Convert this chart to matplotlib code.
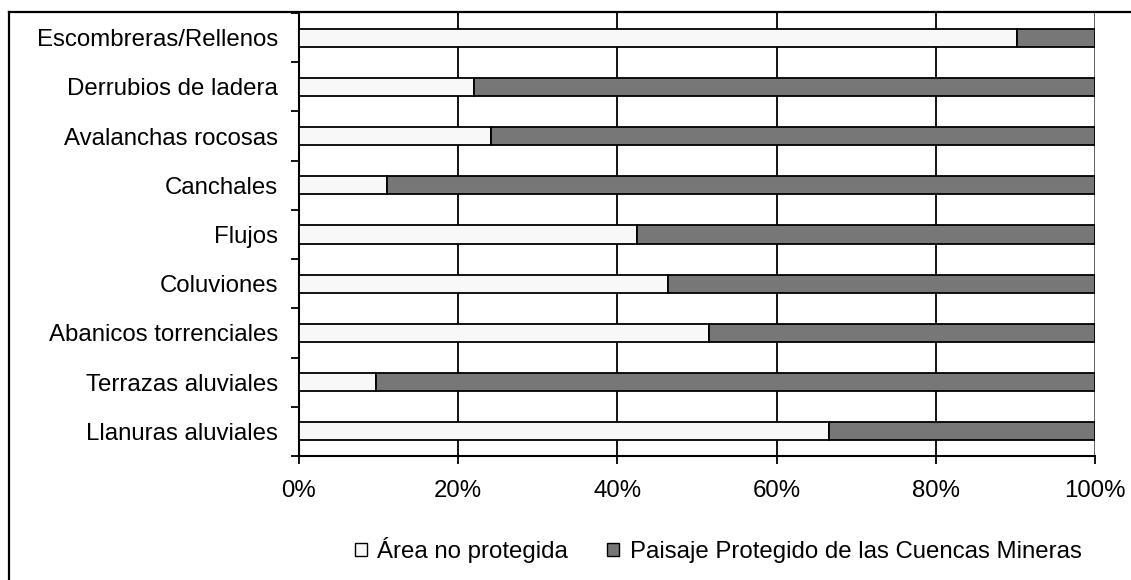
import matplotlib
matplotlib.use("Agg")
import matplotlib.pyplot as plt
from matplotlib.patches import Patch
from matplotlib.lines import Line2D
import numpy as np

categories = ["Escombreras/Rellenos", "Derrubios de ladera", "Avalanchas rocosas",
              "Canchales", "Flujos", "Coluviones", "Abanicos torrenciales",
              "Terrazas aluviales", "Llanuras aluviales"]
no_protegida = [90.2, 22.0, 24.1, 11.0, 42.5, 46.4, 51.5, 9.7, 66.6]
protegida = [100 - v for v in no_protegida]
series_labels = ["Área no protegida", "Paisaje Protegido de las Cuencas Mineras"]
xticks = [0, 20, 40, 60, 80, 100]
xtick_labels = ["0%", "20%", "40%", "60%", "80%", "100%"]

plt.rcParams['font.family'] = ['Liberation Sans', 'DejaVu Sans']
FS = 17.3

W, H = 1131, 580
fig = plt.figure(figsize=(W / 100, H / 100), dpi=100)
ax = fig.add_axes([299 / W, 1 - 456 / H, (1095 - 299) / W, (456 - 13) / H])

y = np.arange(len(categories))
light = "#f8f8f8"
dark = "#777777"
ax.barh(y, no_protegida, height=0.37, color=light, edgecolor="black", linewidth=1.3, zorder=3)
ax.barh(y, protegida, left=no_protegida, height=0.37, color=dark, edgecolor="black", linewidth=1.3, zorder=3)

ax.set_xlim(0, 100)
ax.set_ylim(len(categories) - 0.5, -0.5)

for xv in xticks[1:]:
    ax.axvline(xv, color="black" if xv < 100 else "#555555", linewidth=1.3, zorder=1)

ax.set_xticks(xticks)
ax.set_xticklabels(xtick_labels, fontsize=FS)
ax.tick_params(axis="x", direction="out", length=6, width=1.3, pad=11)

ax.set_yticks(y)
ax.set_yticklabels(categories, fontsize=FS)
ax.set_yticks(np.arange(-0.5, len(categories)), minor=True)
ax.tick_params(axis="y", which="major", length=0, pad=15)
ax.tick_params(axis="y", which="minor", direction="out", length=6, width=1.3)

for s in ["top", "right"]:
    ax.spines[s].set_visible(False)
for s in ["left", "bottom"]:
    ax.spines[s].set_linewidth(1.5)
    ax.spines[s].set_color("black")

# outer frame lines
fig.add_artist(Line2D([9 / W, 9 / W], [0, 1 - 12 / H], transform=fig.transFigure, color="black", linewidth=1.6))
fig.add_artist(Line2D([9 / W, 1], [1 - 12 / H, 1 - 12 / H], transform=fig.transFigure, color="black", linewidth=1.6))

handles = [Patch(facecolor=light, edgecolor="black", linewidth=1.0),
           Patch(facecolor=dark, edgecolor="black", linewidth=1.0)]
fig.legend(handles, series_labels, loc="center", bbox_to_anchor=(718 / W, 1 - 550 / H), ncol=2,
           frameon=False, handlelength=0.5, handleheight=0.5, handletextpad=0.45,
           columnspacing=1.6, fontsize=FS)

fig.savefig("out.png", dpi=100)
